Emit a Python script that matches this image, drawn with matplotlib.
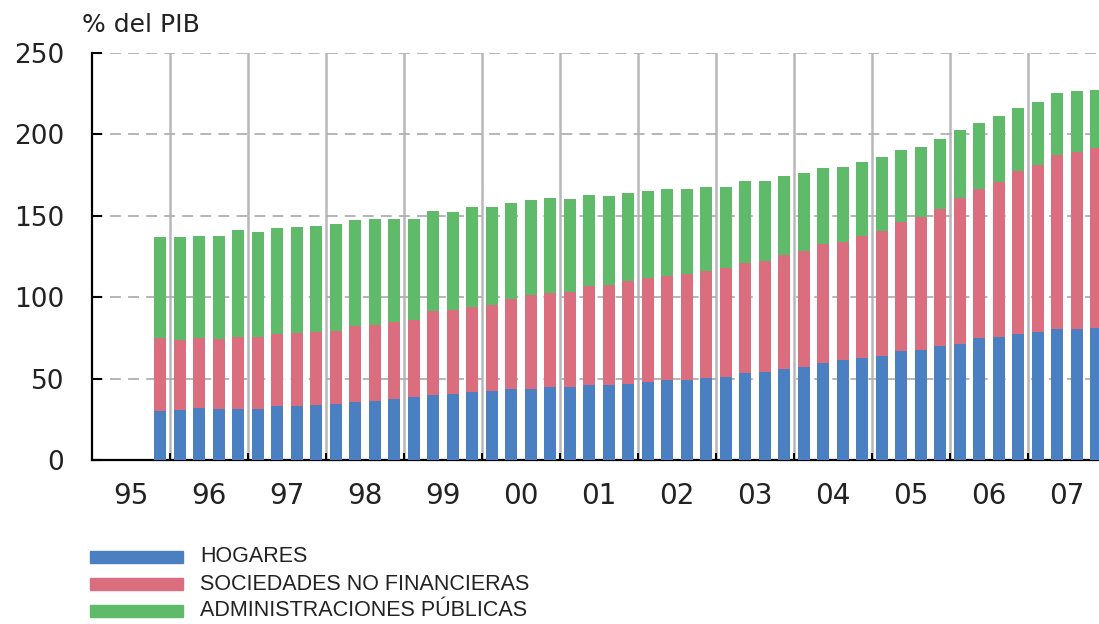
import numpy as np
import matplotlib
matplotlib.use("Agg")
import matplotlib.pyplot as plt
from matplotlib.patches import Rectangle

plt.rcParams['font.family'] = ['DejaVu Sans']

# Trimestres desde 1995 T4 hasta 2007 T4 (índice de trimestre desde 1995 T1)
quarters = np.arange(3, 52)
years = ["95", "96", "97", "98", "99", "00", "01", "02", "03", "04", "05", "06", "07"]

hogares = [30.3, 30.9, 31.9, 31.1, 31.3, 31.3, 33.0, 33.0, 33.8, 34.3,
           35.8, 36.0, 37.5, 38.7, 40.1, 40.3, 41.6, 42.6, 43.4, 43.8,
           45.0, 45.0, 46.1, 46.1, 46.7, 47.7, 49.3, 49.3, 50.4, 51.2,
           53.2, 54.0, 55.9, 57.3, 59.7, 61.2, 62.9, 64.1, 66.8, 67.8,
           70.2, 71.4, 74.9, 75.6, 77.6, 78.6, 80.5, 80.5, 81.3]
sociedades = [44.8, 43.0, 43.2, 43.0, 44.1, 44.4, 44.2, 44.8, 45.0, 45.1,
              46.3, 46.7, 47.5, 47.3, 51.2, 51.6, 52.6, 52.4, 55.3, 57.4,
              57.6, 58.4, 60.6, 61.2, 63.1, 64.1, 63.9, 65.2, 65.5, 66.5,
              67.6, 68.2, 70.2, 71.1, 72.8, 72.9, 74.9, 76.6, 79.4, 81.3,
              84.2, 89.3, 91.4, 95.4, 99.7, 102.4, 106.7, 108.9, 110.3]
admin = [61.7, 62.9, 62.7, 63.7, 65.7, 64.5, 65.3, 65.5, 64.9, 65.6,
         65.3, 65.1, 62.8, 62.2, 61.9, 60.2, 61.0, 60.2, 59.0, 58.5,
         58.5, 56.9, 56.1, 55.1, 54.2, 53.4, 53.4, 51.7, 52.0, 50.2,
         50.4, 49.0, 48.1, 47.9, 47.0, 45.7, 45.5, 45.2, 44.4, 43.0,
         42.8, 41.8, 40.9, 40.3, 39.1, 39.1, 38.4, 37.3, 35.7]

labels = ["HOGARES", "SOCIEDADES NO FINANCIERAS", "ADMINISTRACIONES PÚBLICAS"]
colors = ["#4a80c2", "#db6e7e", "#5fbb6a"]

W, H = 1099, 624
fig = plt.figure(figsize=(W / 100, H / 100), dpi=100)
ax = fig.add_axes([92 / W, 1 - 460 / H, 1014 / W, 407 / H])

h = np.array(hogares)
s = np.array(sociedades)
a = np.array(admin)
ax.bar(quarters, h, width=0.62, color=colors[0], zorder=3)
ax.bar(quarters, s, width=0.62, bottom=h, color=colors[1], zorder=3)
ax.bar(quarters, a, width=0.62, bottom=h + s, color=colors[2], zorder=3)

ax.set_xlim(-0.5, 51.5)
ax.set_ylim(0, 250)

# separadores de año y rejilla horizontal
bounds = np.arange(3.5, 51, 4)
for b in bounds:
    ax.axvline(b, color="#b8b8bc", lw=1.8, zorder=1)
for yv in [50, 100, 150, 200, 250]:
    ax.axhline(yv, color="#b0b0b0", lw=1.3, ls=(0, (6, 4)), zorder=1)

ax.set_yticks([0, 50, 100, 150, 200, 250])
ax.tick_params(axis="y", direction="in", length=7, width=1.5, pad=20,
               labelsize=19, colors="black", labelcolor="#222222")
ax.set_xticks(bounds)
ax.set_xticklabels([])
ax.tick_params(axis="x", which="major", direction="in", length=5, width=1.5)
ax.set_xticks(np.arange(1.5, 52, 4), minor=True)
ax.set_xticklabels(years, minor=True)
ax.tick_params(axis="x", which="minor", length=0, pad=16, labelsize=20,
               labelcolor="#222222")

for sp in ["top", "right"]:
    ax.spines[sp].set_visible(False)
ax.spines["left"].set_linewidth(1.6)
ax.spines["bottom"].set_linewidth(1.6)

fig.text(82 / W, 1 - 25 / H, "% del PIB", fontsize=18, color="#222222",
         ha="left", va="center")

# leyenda
rows_y = [557, 584, 611]
for lab, col, yy in zip(labels, colors, rows_y):
    fig.add_artist(Rectangle((90 / W, 1 - (yy + 6) / H), 93 / W, 12 / H,
                             transform=fig.transFigure, color=col))
    fig.text(200 / W, 1 - yy / H, lab, fontsize=15.5, color="#222222",
             ha="left", va="center",
             family=["Liberation Sans", "DejaVu Sans"])

fig.savefig("out.png", dpi=100)
